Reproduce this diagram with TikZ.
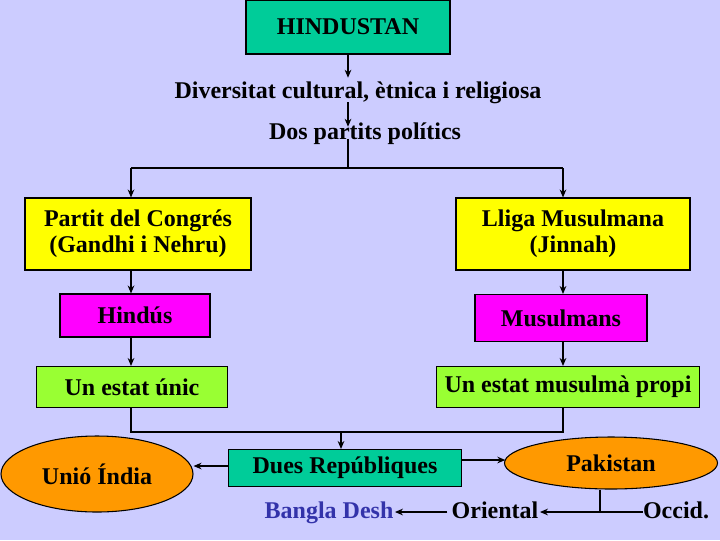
\documentclass[tikz,border=0pt]{standalone}
\usepackage{fontspec}
\setmainfont{Liberation Serif}
\usetikzlibrary{arrows.meta,shapes.geometric,calc}
\definecolor{bg}{RGB}{204,204,255}
\definecolor{teal}{RGB}{0,204,153}
\definecolor{yel}{RGB}{255,255,0}
\definecolor{mag}{RGB}{255,0,255}
\definecolor{lgreen}{RGB}{153,255,51}
\definecolor{orng}{RGB}{255,153,0}
\definecolor{bdblue}{RGB}{51,51,170}
\tikzset{
  txt/.style={font=\bfseries\fontsize{18}{19.5}\selectfont, inner sep=0pt, align=center},
  plain/.style={txt, text height=13pt, text depth=4pt, inner ysep=2pt},
  boxed/.style={txt, draw=black, line width=0.8pt, minimum width=#1},
  conn/.style={line width=0.9pt},
  arr/.style={conn, -{Stealth[length=6pt,width=5pt]}},
  oval/.style={txt, ellipse, draw=black, line width=0.8pt, fill=orng},
}
\begin{document}
\begin{tikzpicture}[x=0.75pt,y=-0.75pt]
\fill[bg] (0,0) rectangle (720,540);
\useasboundingbox (0,0) rectangle (720,540);
\coordinate (colL) at (131,0);
\coordinate (colR) at (563,0);
\coordinate (midX) at (348,0);

\node[boxed=204*0.75pt, fill=teal, minimum height=54*0.75pt] (hind) at (348,27) {HINDUSTAN};
\node[plain] (div) at (358,92) {Diversitat cultural, ètnica i religiosa};
\node[plain] (dos) at (365,133) {Dos partits polítics};

\node[boxed=226*0.75pt, fill=yel, minimum height=72*0.75pt] (cong) at (138,234) {Partit del Congrés\\(Gandhi i Nehru)};
\node[boxed=234*0.75pt, fill=yel, minimum height=72*0.75pt] (lliga) at (573,234) {Lliga Musulmana\\(Jinnah)};

\node[boxed=150*0.75pt, fill=mag, minimum height=43*0.75pt, text depth=0pt] (hindus) at (135,315.5) {Hindús};
\node[boxed=172*0.75pt, fill=mag, minimum height=47*0.75pt] (musul) at (561,318) {Musulmans};

\node[boxed=191*0.75pt, fill=lgreen, minimum height=41*0.75pt] (unic) at (132,387) {Un estat únic};
\node[boxed=263*0.75pt, fill=lgreen, minimum height=41*0.75pt] (propi) at (568,387) {Un estat musulmà propi};

\node[boxed=233*0.75pt, fill=teal, minimum height=37*0.75pt] (dues) at (345,468) {Dues Repúbliques};
\node[oval, minimum width=192*0.75pt, minimum height=76*0.75pt] (unio) at (97,474) {Unió Índia};
\node[oval, minimum width=213*0.75pt, minimum height=52*0.75pt, text depth=0pt] (pak) at (611,463) {Pakistan};

\node[plain, text=bdblue] (bangla) at (329,512) {Bangla Desh};
\node[plain] (orient) at (495,512) {Oriental};
\node[plain] (occid) at (676,512) {Occid.};

\coordinate (split) at (348,168);
\coordinate (join) at (341,432);
\coordinate (pakfork) at (600,512);

% top chain
\draw[arr] (hind.south) -- (div.north -| hind.south);
\draw[arr] ([yshift=3pt]div.south -| hind.south) -- ([yshift=-6pt]dos.north -| hind.south);
\draw[conn] ([yshift=6pt]dos.south -| split) -- (split);
\draw[conn] (split) -- (split -| colL) (split) -- (split -| colR);
\draw[arr] (split -| colL) -- (cong.north -| colL);
\draw[arr] (split -| colR) -- (lliga.north -| colR);

% columns
\draw[arr] (cong.south -| colL) -- (hindus.north -| colL);
\draw[arr] (hindus.south -| colL) -- (unic.north -| colL);
\draw[arr] (lliga.south -| colR) -- (musul.north -| colR);
\draw[arr] (musul.south -| colR) -- (propi.north -| colR);

% join
\draw[conn] (unic.south -| colL) -- (join -| colL) -- (join -| colR) -- (propi.south -| colR);
\draw[arr] (join) -- (dues.north -| join);

% republics
\draw[arr] ([yshift=1.5pt]dues.west) -- ([yshift=1.5pt]dues.west -| unio.east);
\draw[arr] ([yshift=6pt]dues.east) -- ([yshift=6pt,xshift=1pt]dues.east -| pak.west);

% Pakistan split
\draw[conn] (pak.south -| pakfork) -- (pakfork);
\draw[arr] (pakfork) -- ([xshift=1pt]orient.east);
\draw[conn] (pakfork) -- (occid.west);
\draw[arr] ([xshift=-3pt]orient.west) -- ([xshift=1pt]bangla.east);
\end{tikzpicture}
\end{document}
